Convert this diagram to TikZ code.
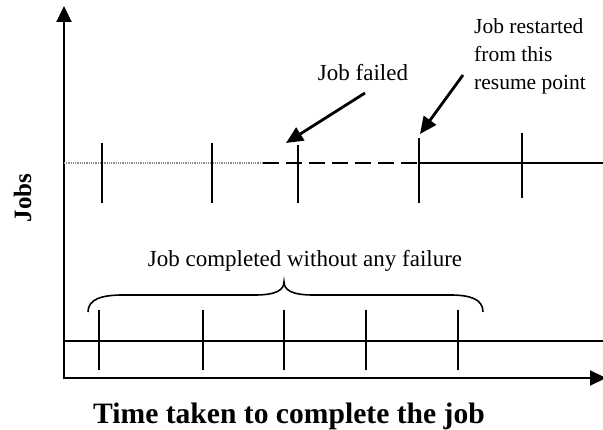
\documentclass[tikz,border=0pt]{standalone}
\usepackage{fontspec}
\setmainfont{Liberation Serif}
\usetikzlibrary{arrows.meta}
\tikzset{
  axis/.style={line width=2.2pt,-{Triangle[length=16pt,width=15pt]}},
  tick/.style={line width=1.7pt},
  callout/.style={line width=2.8pt,-{Triangle[length=17pt,width=15pt]}},
  txt/.style={font=\fontsize{23}{28}\selectfont,inner sep=0pt},
  small/.style={font=\fontsize{21.5}{28}\selectfont,inner sep=0pt,align=left},
  bold/.style={font=\fontsize{29.6}{34}\selectfont\bfseries,inner sep=0pt}
}
\begin{document}
\begin{tikzpicture}[x=1pt,y=-1pt]
\useasboundingbox (0,0) rectangle (603,430);
% axes
\coordinate (o) at (64,378);
\coordinate (ytop) at (64,6);
\coordinate (xend) at (606,378);
\draw[axis] (64,379) -- (ytop);
\draw[axis] (63,378) -- (xend);
% upper job line
\draw[black!45,line width=1.2pt,dash pattern=on 1pt off 0.8pt] (64,163) -- (263,163);
\draw[line width=2pt,dash pattern=on 16pt off 7pt] (263,163) -- (418,163);
\draw[line width=1.8pt] (418,163) -- (603,163);
\foreach \x/\a/\b in {102/143/203, 212/143/203, 298/145/203, 419/138/203, 522/133/198}
  \draw[tick] (\x,\a) -- (\x,\b);
% lower job line
\draw[line width=1.6pt] (64,341) -- (603,341);
\foreach \x in {99,203,284,366,458}
  \draw[tick] (\x,310) -- (\x,370);
% brace
\draw[line width=1.6pt] (88,312) .. controls (88,299) and (102,295) .. (123,295) -- (255,295)
  .. controls (276,295) and (284,290) .. (284,282)
  .. controls (284,290) and (292,295) .. (313,295) -- (450,295)
  .. controls (470,295) and (483,299) .. (483,312);
% labels
\node[txt,anchor=base] (failed) at (363,81) {Job failed};
\node[small,anchor=north west] (restart) at (474,18) {Job restarted\\from this\\resume point};
\node[txt,anchor=base] (complete) at (305,267) {Job completed without any failure};
\node[bold,anchor=base] (xlabel) at (289,424) {Time taken to complete the job};
\node[font=\fontsize{25}{30}\selectfont\bfseries,inner sep=0pt,rotate=90,anchor=base] (ylabel) at (31,198) {Jobs};
% callouts
\coordinate (fstart) at (365,93);
\coordinate (ftip) at (286,143);
\coordinate (rstart) at (463,75);
\coordinate (rtip) at (420,134);
\draw[callout] (fstart) -- (ftip);
\draw[callout] (rstart) -- (rtip);
\end{tikzpicture}
\end{document}
